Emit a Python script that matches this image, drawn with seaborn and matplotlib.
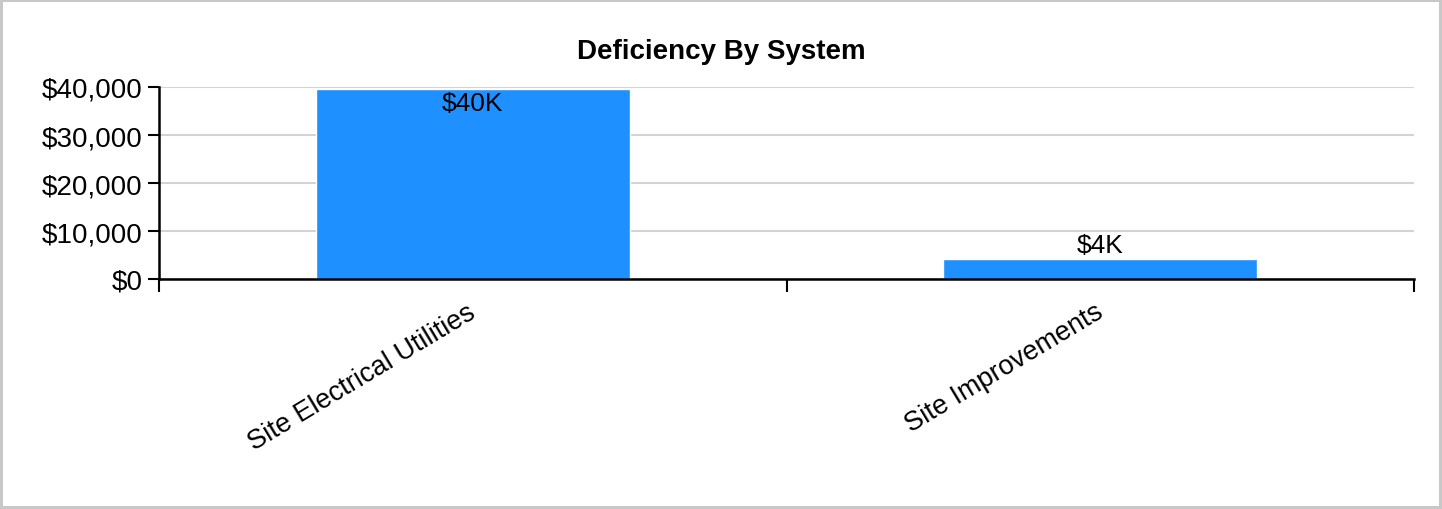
import matplotlib
matplotlib.use("Agg")
import matplotlib.pyplot as plt
import matplotlib.transforms as mtransforms
import seaborn as sns
import pandas as pd
from matplotlib.ticker import FuncFormatter, FixedLocator

systems = ["Site Electrical Utilities", "Site Improvements"]
costs = [39500, 4100]
bar_labels = ["$40K", "$4K"]

df = pd.DataFrame({"System": systems, "Cost": costs})

sns.set_style("white")
plt.rcParams["font.family"] = ["Liberation Sans", "DejaVu Sans"]
plt.rcParams["text.color"] = "black"
plt.rcParams["xtick.color"] = "black"
plt.rcParams["ytick.color"] = "black"

fig = plt.figure(figsize=(14.42, 5.10), dpi=100)
fig.patch.set_edgecolor("#c8c8c8")
fig.patch.set_linewidth(3)
ax = fig.add_axes([159 / 1442, 1 - 280 / 510, (1414 - 159) / 1442, (280 - 88) / 510])

sns.barplot(data=df, x="System", y="Cost", color="#1e90ff", width=0.5,
            saturation=1, ax=ax, zorder=2)

ax.set_ylim(0, 40000)
ax.set_xlim(-0.5, 1.5)
ax.set_yticks([0, 10000, 20000, 30000, 40000])
ax.yaxis.set_major_formatter(FuncFormatter(lambda v, p: f"${v:,.0f}"))
ax.grid(axis="y", color="#d3d3d3", linewidth=1.5, zorder=0)
ax.set_axisbelow(True)

for s in ["top", "right"]:
    ax.spines[s].set_visible(False)
for s in ["left", "bottom"]:
    ax.spines[s].set_color("black")
    ax.spines[s].set_linewidth(1.8)

ax.tick_params(axis="y", which="major", length=8, width=1.5, color="black",
               labelsize=20, left=True, pad=4)
ax.tick_params(axis="x", which="major", length=0, labelsize=19.5, pad=14)
ax.xaxis.set_minor_locator(FixedLocator([-0.5, 0.5, 1.5]))
ax.tick_params(axis="x", which="minor", length=9, width=1.5, color="black", bottom=True)

shift = mtransforms.ScaledTranslation(-6 / 100, 0, fig.dpi_scale_trans)
for lab in ax.get_xticklabels():
    lab.set_rotation(31)
    lab.set_ha("right")
    lab.set_va("top")
    lab.set_rotation_mode("anchor")
    lab.set_transform(lab.get_transform() + shift)

for patch, val, txt in zip(ax.patches, costs, bar_labels):
    cx = patch.get_x() + patch.get_width() / 2
    if val > 10000:
        ax.text(cx, val - 300, txt, ha="center", va="top", fontsize=19, color="black")
    else:
        ax.text(cx, val + 500, txt, ha="center", va="bottom", fontsize=19, color="black")

ax.set_xlabel("")
ax.set_ylabel("")
fig.text(0.5, 1 - 52 / 510, "Deficiency By System", ha="center", va="center",
         fontsize=20, fontweight="bold", color="black")

fig.savefig("out.png", dpi=100, edgecolor=fig.get_edgecolor())
